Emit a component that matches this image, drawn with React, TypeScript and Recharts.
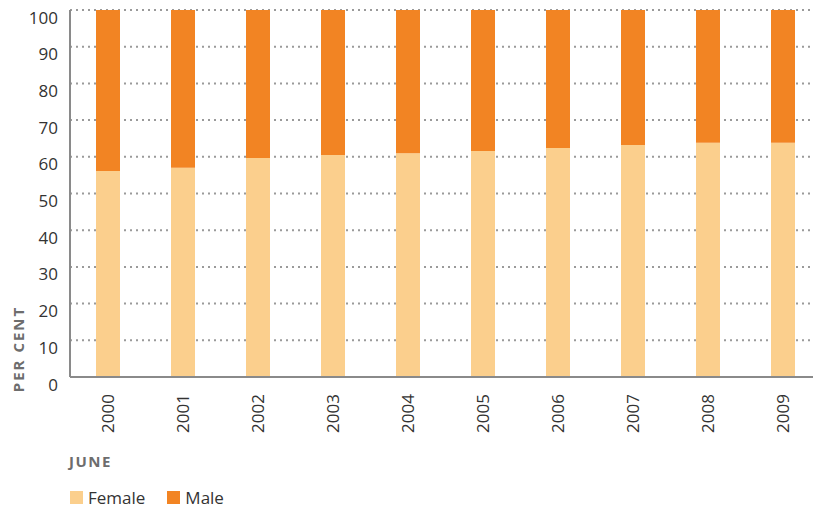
import React from "react";
import { Bar, BarChart, CartesianGrid, XAxis, YAxis } from "recharts";

const years = ["2000", "2001", "2002", "2003", "2004", "2005", "2006", "2007", "2008", "2009"];
const female = [56.1, 57.0, 59.7, 60.5, 61.0, 61.6, 62.4, 63.2, 63.8, 63.8];
const male = [43.9, 43.0, 40.3, 39.5, 39.0, 38.4, 37.6, 36.8, 36.2, 36.2];
const yTicks = [0, 10, 20, 30, 40, 50, 60, 70, 80, 90, 100];

const FEMALE_COLOR = "#fbcf8d";
const MALE_COLOR = "#f28423";
const FONT = "'Open Sans', sans-serif";

const data = years.map((year, i) => ({ year, female: female[i], male: male[i] }));

// y ticks sit a little below their gridline, like the source
const YTick = ({ x, y, payload }: any) => (
  <text x={x - 4} y={y + 7} textAnchor="end" dominantBaseline="central" fill="#333" fontSize={17} fontFamily={FONT}>
    {payload.value}
  </text>
);

const XTick = ({ x, y, payload }: any) => (
  <text
    x={x}
    y={y + 9}
    transform={`rotate(-90, ${x}, ${y + 9})`}
    textAnchor="end"
    dominantBaseline="central"
    fill="#333"
    fontSize={17}
    fontFamily={FONT}
  >
    {payload.value}
  </text>
);

const legendItems = [
  { label: "Female", color: FEMALE_COLOR },
  { label: "Male", color: MALE_COLOR },
];

export default function App() {
  return (
    <div style={{ position: "absolute", left: 0, top: 0, width: 813, height: 509, overflow: "hidden", background: "#fff", fontFamily: FONT }}>
      <BarChart width={830} height={509} data={data} margin={{ top: 10, right: 10, bottom: 0, left: 0 }} barSize={24}>
        <CartesianGrid vertical={false} stroke="#9a9a9a" strokeWidth={2} strokeDasharray="2 4" />
        <XAxis
          dataKey="year"
          height={132}
          tickLine={false}
          axisLine={{ stroke: "#8a8a8a", strokeWidth: 2 }}
          tick={<XTick />}
          interval={0}
        />
        <YAxis
          width={70}
          domain={[0, 100]}
          ticks={yTicks}
          tickLine={false}
          axisLine={{ stroke: "#8a8a8a", strokeWidth: 2 }}
          tick={<YTick />}
          interval={0}
        />
        <Bar dataKey="female" stackId="s" fill={FEMALE_COLOR} isAnimationActive={false} />
        <Bar dataKey="male" stackId="s" fill={MALE_COLOR} isAnimationActive={false} />
      </BarChart>

      <div
        style={{
          position: "absolute",
          left: 18,
          top: 349,
          transform: "translate(-50%, -50%) rotate(-90deg)",
          whiteSpace: "nowrap",
          fontSize: 15,
          fontWeight: 700,
          letterSpacing: 2,
          color: "#6d6d6d",
        }}
      >
        PER CENT
      </div>

      <div style={{ position: "absolute", left: 69, top: 451, fontSize: 15, fontWeight: 700, letterSpacing: 1.5, color: "#6d6d6d" }}>
        JUNE
      </div>

      <div style={{ position: "absolute", left: 70, top: 486, display: "flex", alignItems: "center", gap: 22 }}>
        {legendItems.map((item) => (
          <div key={item.label} style={{ display: "flex", alignItems: "center", gap: 5 }}>
            <span style={{ width: 13, height: 13, background: item.color, display: "inline-block" }} />
            <span style={{ fontSize: 17, color: "#333" }}>{item.label}</span>
          </div>
        ))}
      </div>
    </div>
  );
}
